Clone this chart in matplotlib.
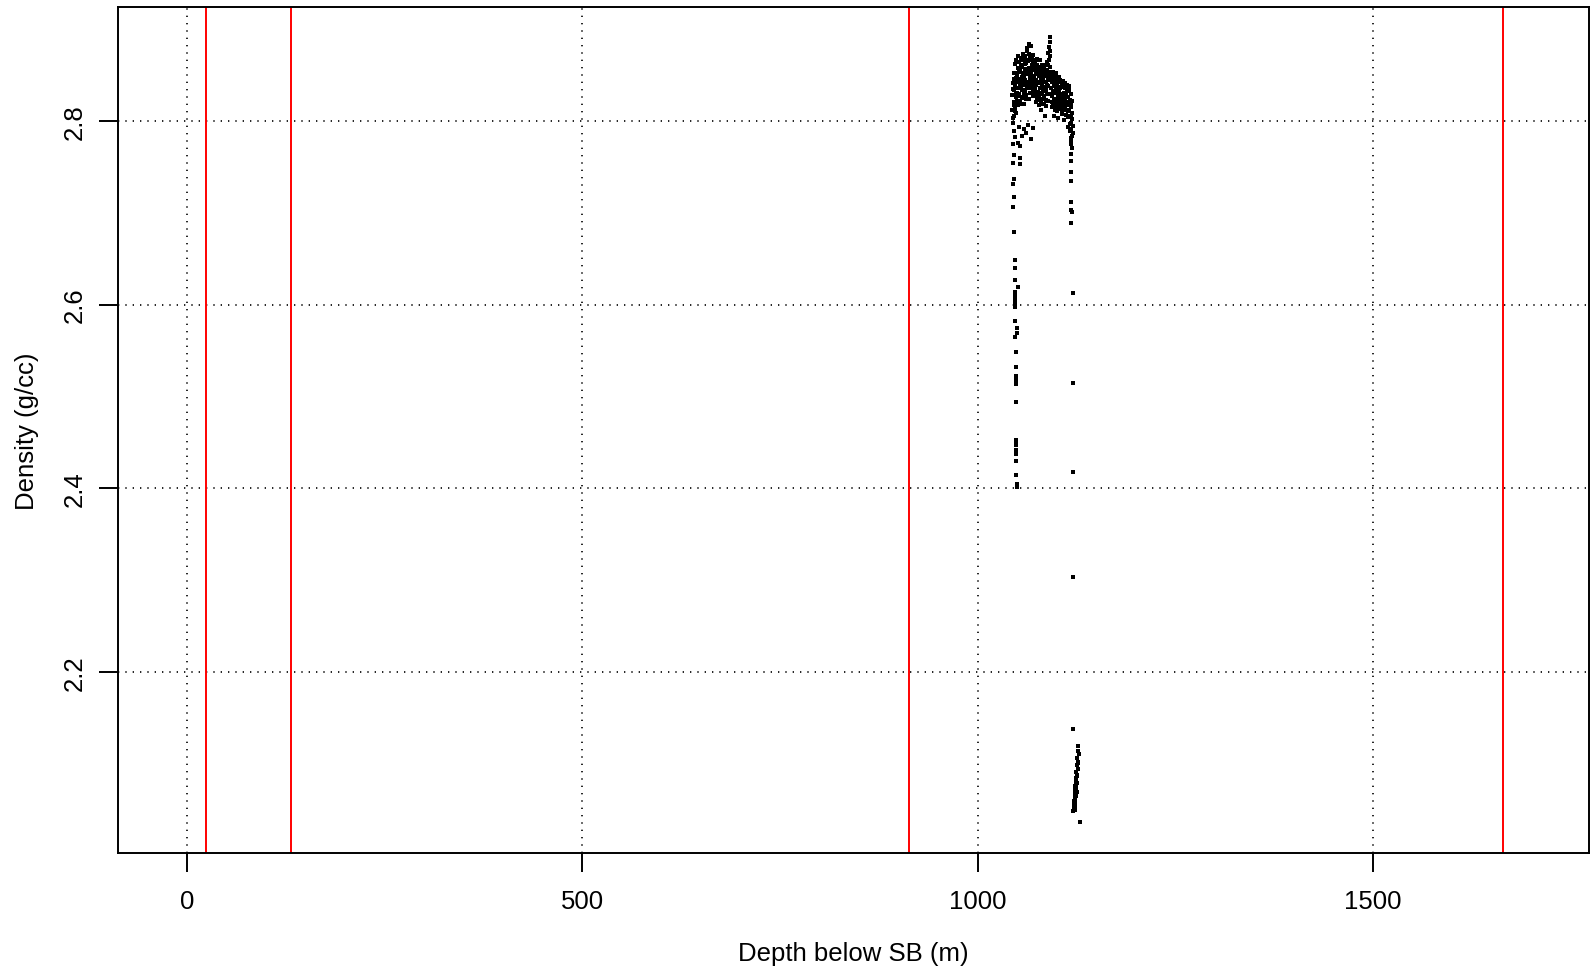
#! /usr/bin/env python3
# coding: utf-8

import matplotlib

matplotlib.use("Agg")
import matplotlib.pyplot as plt

# core of the logged interval: two density readings per depth sample
core_depth = [
    1044.0, 1044.5, 1045.0, 1045.5, 1046.0, 1046.5, 1047.0, 1047.5, 1048.0, 1048.5,
    1049.0, 1049.5, 1050.0, 1050.5, 1051.0, 1051.5, 1052.0, 1052.5, 1053.0, 1053.5,
    1054.0, 1054.5, 1055.0, 1055.5, 1056.0, 1056.5, 1057.0, 1057.5, 1058.0, 1058.5,
    1059.0, 1059.5, 1060.0, 1060.5, 1061.0, 1061.5, 1062.0, 1062.5, 1063.0, 1063.5,
    1064.0, 1064.5, 1065.0, 1065.5, 1066.0, 1066.5, 1067.0, 1067.5, 1068.0, 1068.5,
    1069.0, 1069.5, 1070.0, 1070.5, 1071.0, 1071.5, 1072.0, 1072.5, 1073.0, 1073.5,
    1074.0, 1074.5, 1075.0, 1075.5, 1076.0, 1076.5, 1077.0, 1077.5, 1078.0, 1078.5,
    1079.0, 1079.5, 1080.0, 1080.5, 1081.0, 1081.5, 1082.0, 1082.5, 1083.0, 1083.5,
    1084.0, 1084.5, 1085.0, 1085.5, 1086.0, 1086.5, 1087.0, 1087.5, 1088.0, 1088.5,
    1089.0, 1089.5, 1090.0, 1090.5, 1091.0, 1091.5, 1092.0, 1092.5, 1093.0, 1093.5,
    1094.0, 1094.5, 1095.0, 1095.5, 1096.0, 1096.5, 1097.0, 1097.5, 1098.0, 1098.5,
    1099.0, 1099.5, 1100.0, 1100.5, 1101.0, 1101.5, 1102.0, 1102.5, 1103.0, 1103.5,
    1104.0, 1104.5, 1105.0, 1105.5, 1106.0, 1106.5, 1107.0, 1107.5, 1108.0, 1108.5,
    1109.0, 1109.5, 1110.0, 1110.5, 1111.0, 1111.5, 1112.0, 1112.5, 1113.0, 1113.5,
    1114.0, 1114.5, 1115.0, 1115.5, 1116.0, 1116.5, 1117.0, 1117.5, 1118.0, 1118.5,
    1119.0, 1119.5, 1120.0,
]
core_density_a = [
    2.812, 2.835, 2.798, 2.846, 2.821, 2.805, 2.838, 2.815, 2.852, 2.826,
    2.809, 2.843, 2.831, 2.858, 2.817, 2.846, 2.864, 2.829, 2.841, 2.853,
    2.822, 2.869, 2.837, 2.848, 2.826, 2.859, 2.841, 2.873, 2.834, 2.851,
    2.818, 2.862, 2.845, 2.833, 2.857, 2.828, 2.866, 2.842, 2.879, 2.851,
    2.836, 2.884, 2.858, 2.824, 2.847, 2.869, 2.839, 2.882, 2.853, 2.831,
    2.861, 2.844, 2.872, 2.827, 2.849, 2.838, 2.863, 2.835, 2.856, 2.821,
    2.845, 2.868, 2.832, 2.851, 2.826, 2.859, 2.842, 2.817, 2.854, 2.836,
    2.866, 2.829, 2.847, 2.812, 2.839, 2.858, 2.824, 2.845, 2.833, 2.861,
    2.818, 2.849, 2.806, 2.837, 2.855, 2.823, 2.843, 2.864, 2.829, 2.851,
    2.838, 2.874, 2.845, 2.881, 2.892, 2.886, 2.859, 2.836, 2.848, 2.815,
    2.842, 2.827, 2.853, 2.819, 2.838, 2.806, 2.831, 2.847, 2.816, 2.835,
    2.824, 2.852, 2.811, 2.839, 2.828, 2.845, 2.803, 2.834, 2.821, 2.848,
    2.826, 2.813, 2.837, 2.819, 2.842, 2.808, 2.829, 2.816, 2.838, 2.822,
    2.801, 2.831, 2.815, 2.836, 2.824, 2.807, 2.828, 2.812, 2.833, 2.819,
    2.804, 2.826, 2.811, 2.835, 2.818, 2.797, 2.823, 2.806, 2.791, 2.815,
    2.784, 2.802, 2.795,
]
core_density_b = [
    2.828, 2.803, 2.841, 2.817, 2.852, 2.834, 2.811, 2.862, 2.829, 2.847,
    2.866, 2.822, 2.849, 2.836, 2.871, 2.827, 2.843, 2.855, 2.819, 2.838,
    2.857, 2.846, 2.861, 2.825, 2.868, 2.834, 2.852, 2.845, 2.866, 2.829,
    2.848, 2.839, 2.871, 2.856, 2.824, 2.863, 2.841, 2.876, 2.837, 2.865,
    2.852, 2.843, 2.873, 2.855, 2.831, 2.851, 2.866, 2.848, 2.836, 2.871,
    2.842, 2.858, 2.835, 2.862, 2.827, 2.857, 2.845, 2.866, 2.831, 2.852,
    2.839, 2.823, 2.861, 2.843, 2.855, 2.832, 2.866, 2.849, 2.827, 2.858,
    2.841, 2.853, 2.822, 2.844, 2.861, 2.831, 2.852, 2.819, 2.848, 2.836,
    2.857, 2.827, 2.842, 2.861, 2.834, 2.852, 2.816, 2.839, 2.856, 2.822,
    2.861, 2.847, 2.866, 2.853, 2.876, 2.848, 2.871, 2.851, 2.829, 2.846,
    2.821, 2.851, 2.833, 2.842, 2.817, 2.846, 2.824, 2.812, 2.843, 2.821,
    2.849, 2.832, 2.841, 2.818, 2.846, 2.825, 2.837, 2.814, 2.842, 2.829,
    2.845, 2.836, 2.817, 2.843, 2.825, 2.838, 2.812, 2.844, 2.821, 2.839,
    2.826, 2.813, 2.841, 2.822, 2.837, 2.828, 2.812, 2.839, 2.821, 2.834,
    2.826, 2.811, 2.838, 2.817, 2.833, 2.821, 2.805, 2.829, 2.818, 2.798,
    2.822, 2.809, 2.787,
]

# top of the interval, where density ramps up
upper_edge_depth = [
    1049.6, 1049.6, 1048.3, 1048.3, 1048.3, 1048.3, 1048.3, 1048.3, 1048.3, 1048.3,
    1048.3, 1048.3, 1048.3, 1048.3, 1048.3, 1048.3, 1047.1, 1049.6, 1049.6, 1047.1,
    1047.1, 1047.1, 1047.1, 1047.1, 1047.1, 1047.1, 1050.9, 1047.1, 1047.1, 1047.1,
    1045.8, 1044.6, 1045.8, 1044.6, 1045.8, 1044.6, 1053.4, 1053.4, 1045.8, 1053.4,
    1050.9, 1044.6, 1067.2, 1046.2, 1052.0, 1055.5, 1058.9, 1061.5, 1064.0, 1047.8,
    1069.5,
]
upper_edge_density = [
    2.401, 2.405, 2.414, 2.430, 2.437, 2.442, 2.447, 2.449, 2.452, 2.494,
    2.514, 2.518, 2.520, 2.522, 2.532, 2.548, 2.565, 2.569, 2.575, 2.582,
    2.597, 2.600, 2.603, 2.606, 2.610, 2.614, 2.619, 2.627, 2.640, 2.649,
    2.679, 2.706, 2.717, 2.731, 2.737, 2.754, 2.753, 2.760, 2.763, 2.773,
    2.776, 2.775, 2.780, 2.789, 2.793, 2.784, 2.791, 2.787, 2.796, 2.783,
    2.792,
]

# base of the interval, where density drops off
lower_edge_depth = [
    1117.9, 1117.9, 1118.4, 1119.0, 1117.9, 1117.9, 1117.9, 1117.9, 1117.9, 1117.9,
    1119.2, 1117.9, 1120.4, 1120.4, 1120.4, 1120.4, 1120.4, 1116.5, 1114.2,
]
lower_edge_density = [
    2.778, 2.775, 2.782, 2.771, 2.764, 2.756, 2.744, 2.735, 2.712, 2.703,
    2.701, 2.689, 2.613, 2.515, 2.418, 2.303, 2.138, 2.789, 2.794,
]

# low-density streak below the interval
streak_depth = [
    1127.2, 1126.4, 1127.6, 1125.8, 1126.9, 1125.3, 1126.5, 1124.8, 1125.9, 1124.4,
    1123.9, 1125.4, 1123.6, 1124.9, 1123.2, 1125.1, 1122.8, 1124.3, 1122.5, 1123.7,
    1122.1, 1123.4, 1121.8, 1123.0, 1121.5, 1122.6, 1121.2, 1124.6, 1126.1, 1127.0,
    1121.9, 1123.8, 1129.8, 1122.9, 1124.1,
]
streak_density = [
    2.119, 2.114, 2.110, 2.106, 2.102, 2.098, 2.094, 2.091, 2.087, 2.084,
    2.081, 2.079, 2.076, 2.073, 2.071, 2.069, 2.067, 2.065, 2.063, 2.061,
    2.059, 2.057, 2.055, 2.053, 2.051, 2.049, 2.048, 2.0785, 2.088, 2.101,
    2.0595, 2.0745, 2.036, 2.0685, 2.0825,
]

# formation tops (m below sea bed)
boundaries = [24.0, 131.9, 913.1, 1663.7]

x_ticks = [0, 500, 1000, 1500]
y_ticks = [2.2, 2.4, 2.6, 2.8]
y_tick_labels = ["2.2", "2.4", "2.6", "2.8"]


def plot_density():
    plt.rcParams["font.family"] = ["Liberation Sans", "DejaVu Sans"]
    fig = plt.figure(figsize=(15.91, 9.70), dpi=100)
    ax = fig.add_axes([118.3 / 1591, 1 - 854 / 970, 1470.7 / 1591, 846 / 970])

    for depth, density in (
        (core_depth, core_density_a),
        (core_depth, core_density_b),
        (upper_edge_depth, upper_edge_density),
        (lower_edge_depth, lower_edge_density),
        (streak_depth, streak_density),
    ):
        ax.plot(depth, density, linestyle="none", marker="s", markersize=2.4,
                markeredgewidth=0, color="black", zorder=3)

    for x in boundaries:
        ax.axvline(x, color="#ff0000", linewidth=1.4, zorder=2)

    for x in x_ticks:
        ax.axvline(x, color="black", linewidth=1.2, dashes=(0.8, 3.6), zorder=1)
    for y in y_ticks:
        ax.axhline(y, color="black", linewidth=1.2, dashes=(0.8, 3.6), zorder=1)

    ax.set_xlim(-86.5, 1773)
    ax.set_ylim(2.0026, 2.9242)
    ax.set_xticks(x_ticks)
    ax.set_yticks(y_ticks)
    ax.set_yticklabels(y_tick_labels, rotation=90, va="center")
    ax.tick_params(axis="both", length=13.7, width=1.4, labelsize=18.5)
    ax.tick_params(axis="x", pad=12)
    ax.tick_params(axis="y", pad=9)
    for spine in ax.spines.values():
        spine.set_linewidth(1.4)

    fig.text(853.7 / 1591, 1 - 961 / 970, "Depth below SB (m)", ha="center",
             va="baseline", fontsize=18.5)
    fig.text(27 / 1591, 1 - 431 / 970, "Density (g/cc)", ha="center", va="center",
             rotation=90, fontsize=18.5)

    fig.savefig("out.png", dpi=100)


def main():
    plot_density()


if __name__ == "__main__":
    main()
